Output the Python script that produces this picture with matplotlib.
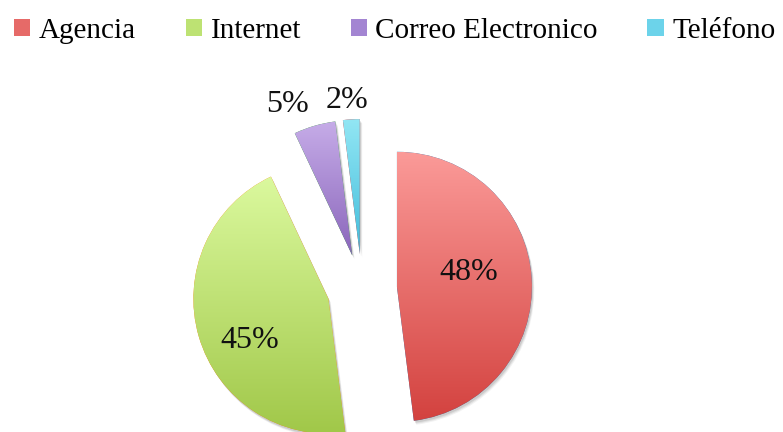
"""Pie chart of contact channels with gradient-filled, exploded wedges."""
import numpy as np
import matplotlib.pyplot as plt
from matplotlib.colors import LinearSegmentedColormap
from matplotlib.patches import Patch, Wedge

# ----- data -----
channels = ["Agencia", "Internet", "Correo Electronico", "Teléfono"]
shares = [48, 45, 5, 2]

# light (top) -> dark (bottom) colours for each wedge
top_colors = ["#fb9a98", "#dbf99e", "#c6ace8", "#92e6f4"]
bottom_colors = ["#d3423f", "#a0c748", "#8a66bb", "#42bddb"]
legend_colors = ["#e66a68", "#bde273", "#a385d2", "#6cd3ea"]

# label placement: distance (in radii) and angle nudge (deg) per wedge
label_dist = [0.54, 0.66, 1.22, 1.14]
label_nudge = [8, 12, 7, 1]

plt.rcParams["font.family"] = ["Liberation Serif", "DejaVu Serif"]

fig = plt.figure(figsize=(7.83, 4.32), dpi=100)
ax = fig.add_axes([0, 0, 1, 1])

cx, cy, r = 362, 143, 135
wedges, _ = ax.pie(shares, startangle=90, counterclock=False,
                   explode=[35] * len(shares), center=(cx, cy), radius=r,
                   wedgeprops=dict(linewidth=0))

grad = np.linspace(0, 1, 256).reshape(-1, 1)
for w, c0, c1, dist, nudge, val in zip(wedges, top_colors, bottom_colors,
                                       label_dist, label_nudge, shares):
    # soft drop shadow
    for k, a in [(4, 0.05), (3, 0.07), (2, 0.09)]:
        sh = Wedge((w.center[0] + k * 0.6, w.center[1] - k), w.r,
                   w.theta1, w.theta2, facecolor="#000000", alpha=a,
                   linewidth=0, zorder=0.5)
        ax.add_patch(sh)
    w.set_zorder(1)
    # vertical gradient clipped to the wedge
    verts = w.get_path().vertices
    x0, x1 = verts[:, 0].min(), verts[:, 0].max()
    y0, y1 = verts[:, 1].min(), verts[:, 1].max()
    cmap = LinearSegmentedColormap.from_list("g", [c0, c1])
    im = ax.imshow(grad, cmap=cmap, extent=(x0, x1, y0, y1), origin="upper",
                   aspect="auto", zorder=1.5, interpolation="bilinear")
    im.set_clip_path(w)

    mid = np.deg2rad((w.theta1 + w.theta2) / 2 + nudge)
    ax.text(w.center[0] + dist * r * np.cos(mid),
            w.center[1] + dist * r * np.sin(mid),
            f"{val}%", ha="center", va="center", fontsize=23, color="#111111",
            zorder=3)

ax.set_xlim(0, 783)
ax.set_ylim(0, 432)
ax.set_aspect("equal")
ax.axis("off")

handles = [Patch(facecolor=c, edgecolor="none") for c in legend_colors]
fig.legend(handles, channels, loc="upper left", bbox_to_anchor=(-0.004, 0.999),
           ncol=4, frameon=False, fontsize=21, handlelength=0.55,
           handleheight=0.55, handletextpad=0.3, columnspacing=1.7,
           borderaxespad=0.2)

fig.savefig("out.png", dpi=100)
